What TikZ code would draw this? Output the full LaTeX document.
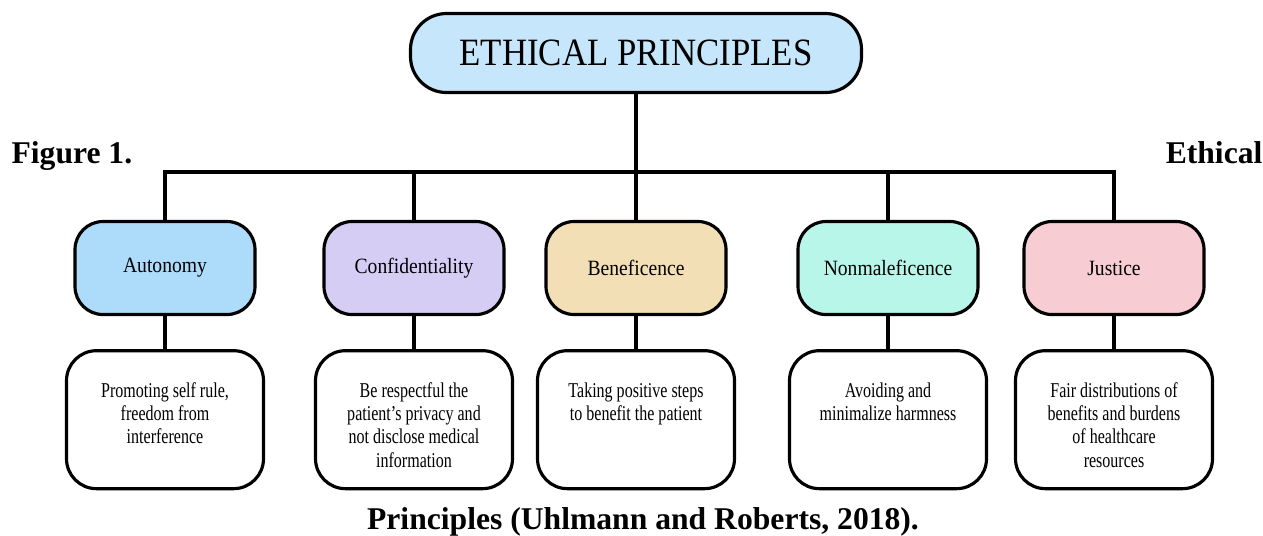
\documentclass[tikz,border=0pt]{standalone}
\usepackage{fontspec}
\setmainfont{Liberation Serif}
\newfontfamily\boxfont[FakeStretch=0.9]{Liberation Serif}
\newfontfamily\detailfont[FakeStretch=0.76]{Liberation Serif}
\usetikzlibrary{positioning}

\definecolor{titleblue}{HTML}{C6E7FB}
\definecolor{autblue}{HTML}{ADDCFB}
\definecolor{conlilac}{HTML}{D6CDF5}
\definecolor{benwheat}{HTML}{F3DFB6}
\definecolor{nonmint}{HTML}{B8F6EA}
\definecolor{juspink}{HTML}{F7CDD3}

\begin{document}
\begin{tikzpicture}[
                            x=0.1mm,
                            y=-0.1mm,
                            line width=0.9pt,
                            node distance=3.3mm
                        ]
                        \tikzstyle{principle}=[draw=black,rounded corners=2.8mm,minimum width=18mm,minimum height=9.3mm,inner sep=0pt,font=\boxfont\fontsize{6.2}{7}\selectfont]
                        \tikzstyle{detail}=[draw=black,fill=white,rounded corners=3mm,minimum width=19.7mm,minimum height=13.8mm,inner sep=0pt]
                        \tikzstyle{detailtext}=[align=center,inner sep=0pt,font=\detailfont\fontsize{6}{6.6}\selectfont]
                        \tikzstyle{caption}=[inner sep=0pt,font=\bfseries\fontsize{9}{10}\selectfont]

                        \useasboundingbox (0,0) rectangle (1263,535);

                        \node[draw=black,fill=titleblue,rounded corners=3.6mm,minimum width=45.1mm,minimum height=7.9mm,font=\boxfont\fontsize{11}{13}\selectfont] (ethics) at (636,53) {ETHICAL PRINCIPLES};

                        \node[principle,fill=autblue]  (aut) at (165,268)  {Autonomy};
                        \node[principle,fill=conlilac] (con) at (414,268)  {Confidentiality};
                        \node[principle,fill=benwheat] (ben) at (636,268)  {Beneficence};
                        \node[principle,fill=nonmint]  (non) at (888,268)  {Nonmaleficence};
                        \node[principle,fill=juspink]  (jus) at (1114,268) {Justice};

                        \node[detail] (autD) [below=of aut] {};
                        \node[detail] (conD) [below=of con] {};
                        \node[detail] (benD) [below=of ben] {};
                        \node[detail] (nonD) [below=of non] {};
                        \node[detail] (jusD) [below=of jus] {};

                        \node[detailtext] (autT) [below=3.2mm of autD.north] {Promoting self rule,\\ freedom from\\ interference};
                        \node[detailtext] (conT) [below=3.2mm of conD.north] {Be respectful the\\ patient’s privacy and\\ not disclose medical\\ information};
                        \node[detailtext] (benT) [below=3.2mm of benD.north] {Taking positive steps\\ to benefit the patient};
                        \node[detailtext] (nonT) [below=3.2mm of nonD.north] {Avoiding and\\ minimalize harmness};
                        \node[detailtext] (jusT) [below=3.2mm of jusD.north] {Fair distributions of\\ benefits and burdens\\ of healthcare\\ resources};

                        \node[caption,anchor=base west] (figno)  at (10,163)   {Figure 1.};
                        \node[caption,anchor=base east] (figeth) at (1264,163) {Ethical};
                        \node[caption,anchor=base]      (figsrc) at (643,529)  {Principles (Uhlmann and Roberts, 2018).};

                        \coordinate (bus) at (636,172);
                        \draw (ethics.south) -- (ben.north);
                        \draw (aut.north) |- (jus.north |- bus) -- (jus.north);
                        \draw (con.north) -- (con.north |- bus);
                        \draw (non.north) -- (non.north |- bus);

                        \path
                        (aut) edge (autD)
                        (con) edge (conD)
                        (ben) edge (benD)
                        (non) edge (nonD)
                        (jus) edge (jusD)
                        ;
                    \end{tikzpicture}
\end{document}
